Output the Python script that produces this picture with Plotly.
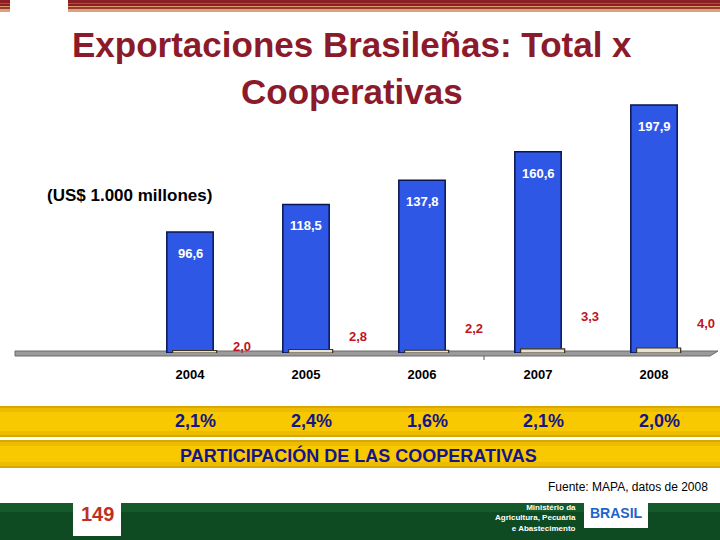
import plotly.graph_objects as go

years = ["2004", "2005", "2006", "2007", "2008"]
total = [96.6, 118.5, 137.8, 160.6, 197.9]
coop = [2.0, 2.8, 2.2, 3.3, 4.0]
share = ["2,1%", "2,4%", "1,6%", "2,1%", "2,0%"]

# where the red co-op labels sit (value units), as on the slide
coop_label_y = [5.0, 13.0, 19.5, 29.0, 23.5]

RED = "#8B1A2B"
NAVY = "#14148C"
BLUE = "#2F57E6"
FONT = "Liberation Sans, Arial, sans-serif"


def comma(v):
    return f"{v:.1f}".replace(".", ",")


W, H = 720, 540
x_idx = list(range(len(years)))

# axis mapping: category i centred at px 190 + 116*i; value 0 at y px 353
x_range = [-190 / 116, (W - 190) / 116]
y_base_px = 353
y_scale = 1.253
y_dom = [(H - y_base_px) / H, 1]
y_range = [0, y_base_px / y_scale]

fig = go.Figure()
fig.add_trace(go.Bar(
    x=x_idx, y=total, width=0.4,
    marker=dict(color=BLUE, line=dict(color="#0A1450", width=1.5)),
    hoverinfo="skip",
))
fig.add_trace(go.Bar(
    x=x_idx, y=coop, width=0.38, offset=-0.15,
    marker=dict(color="#E8E2D0", line=dict(color="#3A3020", width=1.2)),
    hoverinfo="skip",
))


def note(x, y, text, size, color, xref="paper", yref="paper", xanchor="center", **kw):
    return dict(x=x, y=y, xref=xref, yref=yref, text=text, showarrow=False,
                xanchor=xanchor, yanchor="middle",
                font=dict(color=color, size=size, family=FONT), **kw)


ann = []
for i, v in enumerate(total):
    ann.append(note(i, v - 17, f"<b>{comma(v)}</b>", 13, "white", xref="x", yref="y"))
for i, v in enumerate(coop):
    ann.append(note(i + 0.45, coop_label_y[i], f"<b>{comma(v)}</b>", 13, "#C0141E", xref="x", yref="y"))
for i, s in enumerate(share):
    ann.append(note(i + 0.05, 1 - 421 / H, f"<b>{s}</b>", 18, NAVY, xref="x"))

ann += [
    note(0.5 - 8 / W, 1 - 44 / H, "<b>Exportaciones Brasileñas: Total x</b>", 35, RED),
    note(0.5 - 8 / W, 1 - 91 / H, "<b>Cooperativas</b>", 35, RED),
    note(45 / W, 1 - 195 / H, "<b>(US$ 1.000 millones)</b>", 17, "black", xanchor="left"),
    note(178 / W, 1 - 455 / H, "<b>PARTICIPACIÓN DE LAS COOPERATIVAS</b>", 18, NAVY, xanchor="left"),
    note(710 / W, 1 - 487 / H, "Fuente: MAPA, datos de 2008", 12, "black", xanchor="right"),
    note(578 / W, 1 - 518 / H, "<b>Ministério da<br>Agricultura, Pecuária<br>e Abastecimento</b>", 8,
         "white", xanchor="right", align="right"),
    note(97 / W, 1 - 514 / H, "<b>149</b>", 20, "#C0301E"),
    note(616 / W, 1 - 513 / H, "<b>BRASIL</b>", 14, "#1E64C8"),
]


def rect(x0, y0, x1, y1, color):
    return dict(type="rect", xref="paper", yref="paper", layer="below",
                x0=x0 / W, x1=x1 / W, y0=1 - y1 / H, y1=1 - y0 / H,
                fillcolor=color, line=dict(width=0))


shapes = []
# top stripes
stripes = [(0, 3, "#8A1E22"), (3, 4, "#B0503A"), (4, 6, "#8A1E22"), (6, 7, "#D99A70"),
           (7, 9, "#9A3A28"), (9, 12, "#D8A27A")]
for y0, y1, c in stripes:
    shapes.append(rect(0, y0, W, y1, c))
shapes.append(rect(10, 0, 68, 13, "white"))

# yellow bands (vertical gradient imitated with layers)
for top, bot in [(406, 437), (440, 468)]:
    shapes.append(rect(0, top, W, bot, "#D8A800"))
    shapes.append(rect(0, top + 2, W, bot - 2, "#EDBB00"))
    shapes.append(rect(0, top + 6, W, bot - 6, "#F8C800"))

# green footer
shapes.append(rect(0, 503, W, H, "#0E4A22"))
shapes.append(rect(0, 503, W, 512, "#145A2A"))
shapes.append(rect(73, 500, 121, 536, "white"))
shapes.append(rect(584, 500, 648, 528, "white"))

# floor / axis line
shapes.append(dict(type="path", xref="paper", yref="paper", layer="below",
                   path=f"M {15/W},{1-351/H} L {718/W},{1-351/H} L {710/W},{1-356/H} L {15/W},{1-356/H} Z",
                   fillcolor="#9A9A9A", line=dict(color="#6A6A6A", width=1)))
shapes.append(dict(type="line", xref="paper", yref="paper",
                   x0=484 / W, x1=484 / W, y0=1 - 356 / H, y1=1 - 360 / H,
                   line=dict(color="#555", width=1)))

fig.update_layout(
    width=W, height=H, barmode="overlay", showlegend=False,
    margin=dict(l=0, r=0, t=0, b=0),
    paper_bgcolor="white", plot_bgcolor="rgba(0,0,0,0)",
    xaxis=dict(range=x_range, domain=[0, 1], tickvals=x_idx, ticktext=[f"<b>{y}</b>" for y in years],
               showgrid=False, zeroline=False, showline=False, ticks="",
               ticklabelstandoff=12, tickfont=dict(size=13, color="black", family=FONT)),
    yaxis=dict(range=y_range, domain=y_dom, visible=False, showgrid=False, zeroline=False),
    annotations=ann, shapes=shapes,
)

fig.write_html("out.html", config={"displayModeBar": False},
               post_script="document.body.style.margin='0';")
